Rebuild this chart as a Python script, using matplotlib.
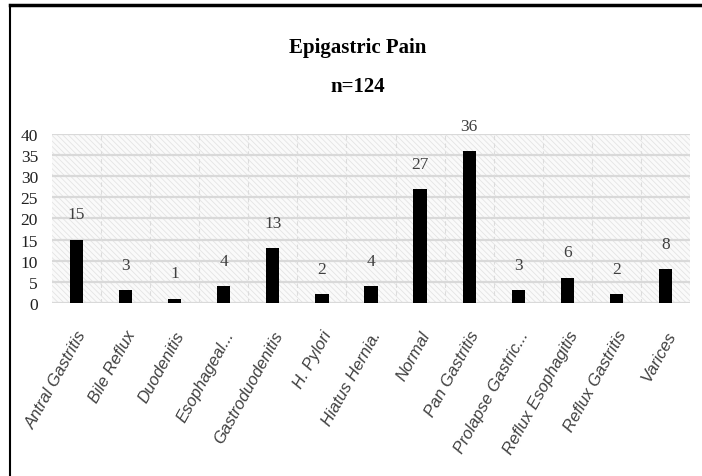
import matplotlib.pyplot as plt
from matplotlib.patches import Rectangle
from matplotlib.lines import Line2D

# Data
diagnoses = ['Antral Gastritis', 'Bile Reflux', 'Duodenitis', 'Esophageal...',
             'Gastroduodenitis', 'H. Pylori', 'Hiatus Hernia.', 'Normal',
             'Pan Gastritis', 'Prolapse Gastric...', 'Reflux Esophagitis',
             'Reflux Gastritis', 'Varices']
counts = [15, 3, 1, 4, 13, 2, 4, 27, 36, 3, 6, 2, 8]
y_ticks = [0, 5, 10, 15, 20, 25, 30, 35, 40]

num_font = ['Liberation Sans Narrow', 'Liberation Serif', 'DejaVu Serif']
lab_font = ['Liberation Sans', 'DejaVu Sans']

plt.rcParams['hatch.linewidth'] = 0.6

fig = plt.figure(figsize=(7.02, 4.77), dpi=100)
ax = fig.add_axes([0.074, 0.363, 0.909, 0.354])

n = len(diagnoses)
x = list(range(n))

# hatched background of the plot area
ax.add_patch(Rectangle((-0.5, 0), n, 40, facecolor='#fafafa', edgecolor='#e4e4e4',
                       hatch='\\\\\\\\\\\\', linewidth=0, zorder=0))

for y in y_ticks:
    ax.axhline(y, color='#d9d9d9', linewidth=1.6, zorder=1)
for k in range(1, n):
    ax.axvline(k - 0.5, color='#dcdcdc', linewidth=0.8, linestyle=(0, (4, 3)), zorder=1)

ax.bar(x, counts, width=0.27, color='black', zorder=3)

for xi, c in zip(x, counts):
    ax.text(xi, c + 6, str(c), ha='center', va='center', fontsize=12.5,
            color='#404040', family=num_font)

ax.set_xlim(-0.5, n - 0.5)
ax.set_ylim(0, 40)
ax.set_yticks(y_ticks)
ax.set_yticklabels([str(v) for v in y_ticks], family=num_font, fontsize=12.5, color='#202020')
ax.set_xticks(x)
ax.set_xticklabels(diagnoses, rotation=61, ha='right', rotation_mode='anchor',
                   fontstyle='italic', fontsize=12, color='#404040', family=lab_font)
ax.tick_params(axis='both', length=0)
ax.tick_params(axis='x', pad=18)
ax.tick_params(axis='y', pad=10)
for s in ax.spines.values():
    s.set_visible(False)

fig.text(0.509, 0.9, 'Epigastric Pain', ha='center', va='center', fontsize=15,
         fontweight='bold', family=num_font)
fig.text(0.509, 0.817, 'n=124', ha='center', va='center', fontsize=15,
         fontweight='bold', family=num_font)

# outer frame of the figure panel
fig.add_artist(Line2D([0.014, 1.0], [0.987, 0.987], color='black', linewidth=2.5))
fig.add_artist(Line2D([0.014, 0.014], [0.0, 0.987], color='black', linewidth=1.5))

fig.savefig('out.png', dpi=100)
